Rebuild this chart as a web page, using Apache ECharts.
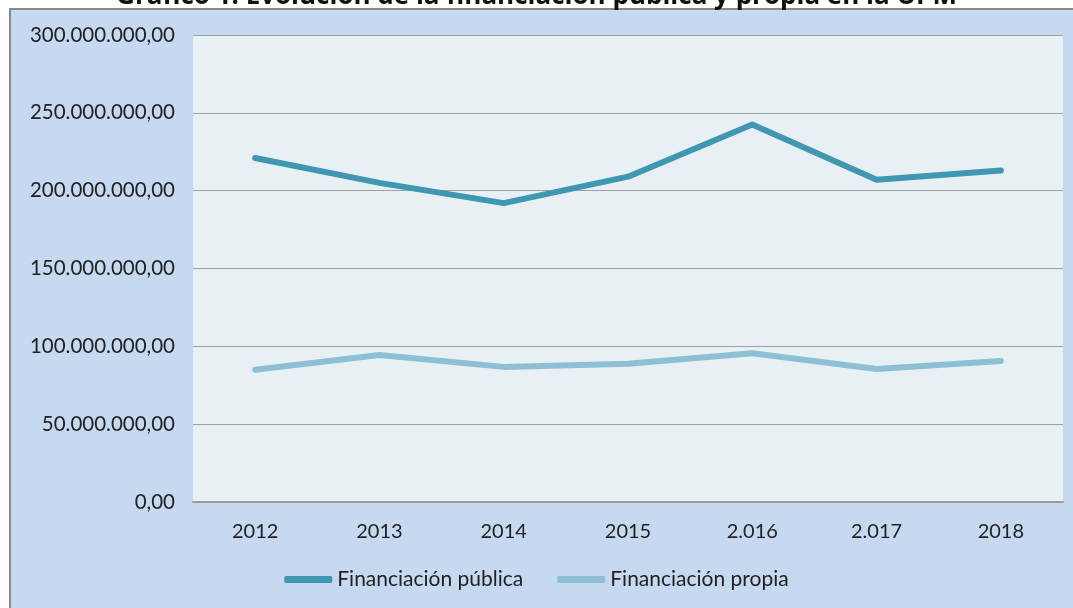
<!DOCTYPE html>
<html>
<head>
<meta charset="utf-8">
<script src="https://cdn.jsdelivr.net/npm/echarts@6/dist/echarts.min.js"></script>
<style>
  html, body { margin: 0; padding: 0; background: #fff; }
  #main { width: 1073px; height: 608px; }
</style>
</head>
<body>
<div id="main"></div>
<script>
const years = ['2012', '2013', '2014', '2015', '2.016', '2.017', '2018'];
const publica = [221000000, 205000000, 192000000, 209000000, 242500000, 207000000, 213000000];
const propia = [85000000, 94400000, 86800000, 88800000, 95600000, 85400000, 90600000];
const yTicks = [0, 50000000, 100000000, 150000000, 200000000, 250000000, 300000000];

// 300000000 -> "300.000.000,00"
function fmt(v) {
  const s = String(Math.round(v)).replace(/\B(?=(\d{3})+(?!\d))/g, '.');
  return s + ',00';
}

const myChart = echarts.init(document.getElementById('main'));
const font = 'Lato, "Open Sans", sans-serif';

const option = {
  animation: false,
  backgroundColor: '#ffffff',
  title: {
    text: 'Gráfico 1. Evolución de la financiación pública y propia en la UPM',
    left: 'center',
    top: -21,
    textStyle: { fontSize: 26, fontWeight: 'bold', color: '#111', fontFamily: '"Open Sans", sans-serif' }
  },
  graphic: [{
    type: 'rect',
    z: -10,
    shape: { x: 10, y: 9, width: 1090, height: 640 },
    style: { fill: '#c6d9f1', stroke: '#8a8a8a', lineWidth: 2 }
  }],
  grid: {
    left: 193, right: 10, top: 35, bottom: 106,
    show: true, backgroundColor: '#e8f0f4', borderWidth: 0
  },
  legend: {
    bottom: 13,
    left: 'center',
    itemWidth: 48,
    itemHeight: 7,
    itemGap: 34,
    icon: 'roundRect',
    textStyle: { fontSize: 21, color: '#222', fontFamily: font },
    data: ['Financiación pública', 'Financiación propia']
  },
  xAxis: {
    type: 'category',
    data: years,
    boundaryGap: true,
    axisLine: { lineStyle: { color: '#9a9a9a', width: 2 } },
    axisTick: { show: false },
    axisLabel: { margin: 20, fontSize: 20, color: '#222', fontFamily: font }
  },
  yAxis: {
    type: 'value',
    min: yTicks[0],
    max: yTicks[yTicks.length - 1],
    interval: 50000000,
    axisLine: { show: false },
    axisTick: { show: false },
    splitLine: { lineStyle: { color: '#a0a0a0', width: 1 } },
    axisLabel: { margin: 18, fontSize: 20.5, color: '#222', fontFamily: font, formatter: fmt }
  },
  series: [
    {
      name: 'Financiación pública',
      type: 'line',
      data: publica,
      symbol: 'none',
      color: '#3f97b1',
      lineStyle: { width: 6, cap: 'round', join: 'round' }
    },
    {
      name: 'Financiación propia',
      type: 'line',
      data: propia,
      symbol: 'none',
      color: '#8dc0d5',
      lineStyle: { width: 6, cap: 'round', join: 'round' }
    }
  ]
};
myChart.setOption(option);
</script>
</body>
</html>
